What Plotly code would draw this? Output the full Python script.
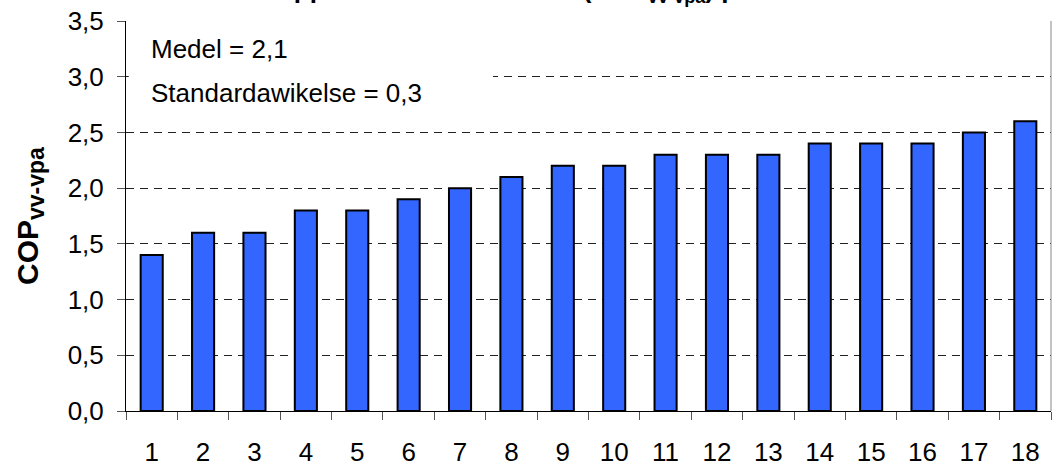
import plotly.graph_objects as go

categories = [str(i) for i in range(1, 19)]
values = [1.4, 1.6, 1.6, 1.8, 1.8, 1.9, 2.0, 2.1, 2.2, 2.2, 2.3, 2.3, 2.3, 2.4, 2.4, 2.4, 2.5, 2.6]
stats_lines = ["Medel = 2,1", "Standardawikelse = 0,3"]
title_text = "Uppmätt årsvärmefaktor (COP<sub>vv-vpa</sub>) per hus"
ytitle_text = "COP<sub><span style='font-size:23px'>vv-vpa</span></sub>"

FONT = "Liberation Sans, Arial, sans-serif"
W, H = 1053, 466
L, R, T, B = 126, 2, 21, 55
PH = H - T - B
PW = W - L - R

fig = go.Figure()
fig.add_trace(go.Bar(
    x=categories, y=values, width=0.43,
    marker=dict(color="#3366FF", line=dict(color="black", width=2)),
))

fig.update_layout(
    width=W, height=H,
    margin=dict(l=L, r=R, t=T, b=B, autoexpand=False),
    paper_bgcolor="white", plot_bgcolor="white",
    separators=", ",
    showlegend=False,
    font=dict(family=FONT, size=26, color="black"),
)
fig.update_xaxes(
    type="category", range=[-0.5, 17.5], automargin=False,
    showline=True, linecolor="black", linewidth=1,
    ticks="outside", tickson="boundaries", ticklen=8, tickcolor="#555", tickwidth=1,
    showgrid=False, ticklabelstandoff=18,
    tickfont=dict(size=26),
)
fig.update_yaxes(
    range=[0, 3.5], dtick=0.5, tickformat=".1f", automargin=False,
    showline=True, linecolor="black", linewidth=1,
    ticks="outside", ticklen=8, tickcolor="#555", tickwidth=1,
    showgrid=True, gridcolor="#222", gridwidth=1, griddash="8px,6px",
    zeroline=False, ticklabelstandoff=8,
    tickfont=dict(size=26),
)

# white box behind statistics text
fig.add_shape(type="rect", xref="paper", yref="y", x0=0.003, x1=(493 - L) / PW,
              y0=2.9, y1=3.4, fillcolor="white", line=dict(width=0), layer="above")
# right border
fig.add_shape(type="line", xref="paper", yref="paper", x0=1, x1=1, y0=0, y1=1,
              line=dict(color="#888", width=1))

for i, (txt, ypx) in enumerate(zip(stats_lines, [49, 93])):
    fig.add_annotation(xref="paper", yref="paper", x=(149 - L) / PW, xanchor="left",
                       y=1 + (T - ypx) / PH, yanchor="middle", text=txt, showarrow=False,
                       font=dict(size=26, family=FONT))

fig.add_annotation(xref="paper", yref="paper", x=(30 - L) / PW, xanchor="center",
                   y=0.5, yanchor="middle", text=ytitle_text, textangle=-90, showarrow=False,
                   font=dict(size=30, family=FONT, weight="bold"))

fig.add_annotation(xref="paper", yref="paper", x=(545 - L) / PW, xanchor="center",
                   y=1 + (T - 9) / PH, yanchor="bottom", text=title_text, showarrow=False,
                   font=dict(size=26, family=FONT, weight="bold"))

fig.write_html("out.html", post_script="document.body.style.margin='0';",
               config={"displayModeBar": False})
